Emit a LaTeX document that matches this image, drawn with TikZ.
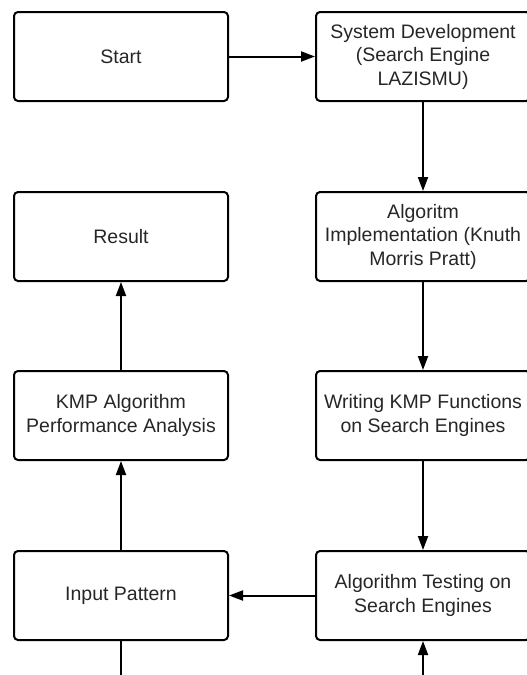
\documentclass[tikz,border=0pt]{standalone}
\usepackage{fontspec}
\setmainfont{Liberation Sans}
\usetikzlibrary{arrows.meta}
\begin{document}
\begin{tikzpicture}[x=1pt,y=-1pt,
  box/.style={draw=black,line width=2pt,rounded corners=4pt,minimum width=214pt,minimum height=89pt,
    align=center,inner sep=0pt,font=\fontsize{19.5}{23.5}\selectfont,text=black!85},
  link/.style={line width=2pt,-{Triangle[length=14pt,width=10pt]}},
  plain/.style={line width=2pt}]
\useasboundingbox (0,0) rectangle (527,675);
\clip (0,0) rectangle (527,675);
\node[box] (start) at (121,56.5) {Start};
\node[box] (sys) at (423,56.5) {System Development\\(Search Engine\\LAZISMU)};
\node[box] (result) at (121,236.5) {Result};
\node[box] (alg) at (423,236.5) {Algoritm\\Implementation (Knuth\\Morris Pratt)};
\node[box] (kmp) at (121,415.5) {KMP Algorithm\\Performance Analysis};
\node[box] (write) at (423,415.5) {Writing KMP Functions\\on Search Engines};
\node[box] (input) at (121,595.5) {Input Pattern};
\node[box] (test) at (423,595.5) {Algorithm Testing on\\Search Engines};
\coordinate (lb) at (121,676);
\coordinate (rb) at (423,676);
\draw[link] (start.east) -- (sys.west);
\draw[link] (sys.south) -- (alg.north);
\draw[link] (alg.south) -- (write.north);
\draw[link] (write.south) -- (test.north);
\draw[link] (test.west) -- (input.east);
\draw[link] (input.north) -- (kmp.south);
\draw[link] (kmp.north) -- (result.south);
\draw[plain] (input.south) -- (lb);
\draw[link] (rb) -- (test.south);
\end{tikzpicture}
\end{document}
